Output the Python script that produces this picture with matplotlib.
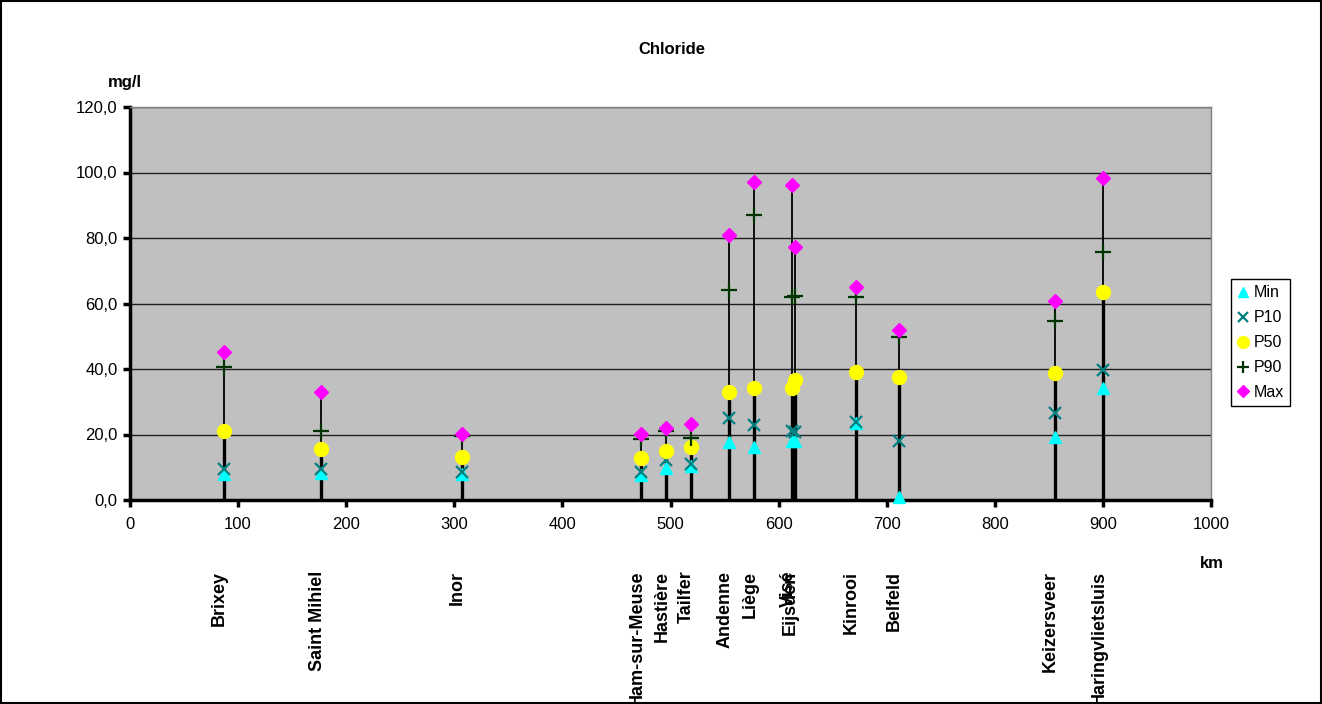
import matplotlib
matplotlib.use("Agg")
import matplotlib.pyplot as plt
from matplotlib.patches import Rectangle
from matplotlib.ticker import FuncFormatter, MultipleLocator

plt.rcParams['font.family'] = ['Liberation Sans', 'DejaVu Sans']

# chloride statistics per monitoring station along the Meuse (mg/l)
stations = ['Brixey', 'Saint Mihiel', 'Inor', 'Ham-sur-Meuse', 'Hastière', 'Tailfer',
            'Andenne', 'Liège', 'Visé', 'Eijsden', 'Kinrooi', 'Belfeld',
            'Keizersveer', 'Haringvlietsluis']
km = [87, 177, 307, 473, 496, 519, 554, 577.5, 612.7, 615, 671.6, 711.4, 855.7, 900.4]
cl_min = [8.0, 8.3, 7.8, 7.5, 9.9, 10.5, 17.8, 16.1, 18.0, 18.0, 23.5, 1.0, 19.3, 34.2]
cl_p10 = [9.4, 9.4, 8.7, 8.4, 12.2, 11.0, 25.0, 22.9, 21.2, 20.9, 23.9, 18.1, 26.6, 39.7]
cl_p50 = [21.1, 15.5, 13.2, 12.7, 15.1, 16.1, 33.1, 34.1, 34.1, 36.7, 39.0, 37.5, 38.8, 63.6]
cl_p90 = [40.5, 21.1, 19.5, 18.5, 21.0, 18.8, 64.0, 87.1, 62.1, 62.3, 62.1, 49.8, 54.7, 75.8]
cl_max = [45.2, 33.1, 20.2, 20.2, 22.1, 23.1, 81.0, 97.0, 96.1, 77.1, 65.0, 52.0, 60.8, 98.4]

W, H = 1322, 704
fig = plt.figure(figsize=(W / 100, H / 100), dpi=100)
ax = fig.add_axes([130 / W, 1 - 500 / H, (1211 - 130) / W, (500 - 107) / H])
ax.set_facecolor('#C0C0C0')
ax.set_xlim(0, 1000)
ax.set_ylim(0, 120)

ax.yaxis.set_major_locator(MultipleLocator(20))
ax.xaxis.set_major_locator(MultipleLocator(100))
ax.yaxis.set_major_formatter(FuncFormatter(lambda v, p: f"{v:.1f}".replace('.', ',')))
ax.grid(axis='y', color='#202020', lw=1)
ax.set_axisbelow(True)

for side in ('left', 'bottom'):
    ax.spines[side].set_linewidth(2.5)
    ax.spines[side].set_color('black')
for side in ('top', 'right'):
    ax.spines[side].set_linewidth(1)
    ax.spines[side].set_color('#808080')
ax.tick_params(axis='both', direction='out', length=5, width=2.5, labelsize=12, color='black')
ax.tick_params(axis='x', pad=7)
ax.tick_params(axis='y', pad=4)

# stems: heavy below the median, thin up to the maximum
ax.vlines(km, 0, cl_p50, color='black', lw=2.4, zorder=2)
ax.vlines(km, 0, cl_max, color='black', lw=1.3, zorder=2)

ax.plot(km, cl_min, ls='none', marker='^', ms=9, color='#00FFFF', mec='#00FFFF',
        label='Min', zorder=3, clip_on=False)
ax.plot(km, cl_p10, ls='none', marker='x', ms=9, mew=1.6, color='#008080',
        label='P10', zorder=4, clip_on=False)
ax.plot(km, cl_p50, ls='none', marker='o', ms=10, color='#FFFF00', mec='#FFFF00',
        label='P50', zorder=5, clip_on=False)
ax.plot(km, cl_p90, ls='none', marker='+', ms=11, mew=1.6, color='#003300',
        label='P90', zorder=6, clip_on=False)
ax.plot(km, cl_max, ls='none', marker='D', ms=7, color='#FF00FF', mec='#FF00FF',
        label='Max', zorder=7, clip_on=False)

# station names under the km axis
trans = ax.get_xaxis_transform()
for name, x in zip(stations, km):
    ax.text(x - 4, -0.18, name, transform=trans, rotation=90, ha='center', va='top',
            fontsize=13, fontweight='bold', clip_on=False)

fig.text(672 / W, 1 - 50 / H, 'Chloride', ha='center', va='center',
         fontsize=12, fontweight='bold')
fig.text(125 / W, 1 - 83 / H, 'mg/l', ha='center', va='center',
         fontsize=12, fontweight='bold')
fig.text(1212 / W, 1 - 563 / H, 'km', ha='center', va='center',
         fontsize=12, fontweight='bold')

leg = ax.legend(loc='upper left', bbox_to_anchor=(1231 / W, 1 - 279 / H),
                bbox_transform=fig.transFigure, borderaxespad=0, fancybox=False,
                frameon=True, edgecolor='black', framealpha=1, fontsize=11.5,
                handlelength=0.7, handletextpad=0.3, labelspacing=0.62,
                borderpad=0.4, markerscale=0.85)
leg.get_frame().set_linewidth(1)

fig.patches.append(Rectangle((0.001, 0.001), 0.998, 0.998, transform=fig.transFigure,
                             fill=False, edgecolor='black', lw=1.5))

fig.savefig('out.png', dpi=100)
